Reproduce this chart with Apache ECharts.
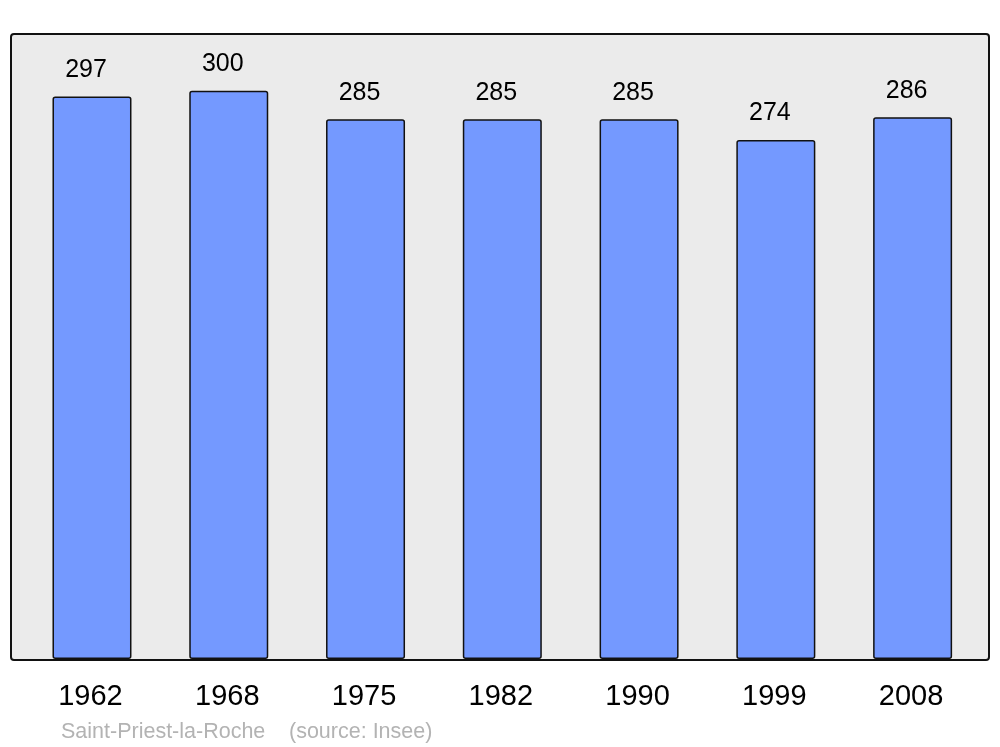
<!DOCTYPE html>
<html>
<head>
<meta charset="utf-8">
<script src="https://cdn.jsdelivr.net/npm/echarts@6/dist/echarts.min.js"></script>
<style>html,body{margin:0;padding:0;background:#fff;}#c{width:1000px;height:747px;}</style>
</head>
<body>
<div id="c"></div>
<script>
const years = ['1962', '1968', '1975', '1982', '1990', '1999', '2008'];
const population = [297, 300, 285, 285, 285, 274, 286];
const commune = 'Saint-Priest-la-Roche';
const sourceText = '(source: Insee)';

const chart = echarts.init(document.getElementById('c'), null, {renderer: 'canvas'});
const FONT = '"Liberation Sans", Arial, sans-serif';
chart.setOption({
  animation: false,
  backgroundColor: '#ffffff',
  graphic: [
    {type: 'rect', z: -10, silent: true,
     shape: {x: 11, y: 34, width: 978, height: 626, r: 3},
     style: {fill: '#ebebeb', stroke: '#111111', lineWidth: 2}},
    {type: 'text', left: 61, top: 721, silent: true,
     style: {text: commune, fill: '#b3b3b3', font: '21.5px ' + FONT}},
    {type: 'text', left: 289, top: 721, silent: true,
     style: {text: sourceText, fill: '#b3b3b3', font: '21.5px ' + FONT}}
  ],
  grid: {left: 23.6, right: 19, top: 34, bottom: 88},
  xAxis: {
    type: 'category', data: years,
    axisLine: {show: false}, axisTick: {show: false},
    axisLabel: {color: '#000', fontSize: 29, fontFamily: FONT, margin: 23, padding: [0, 3, 0, 0]}
  },
  yAxis: {type: 'value', min: 0, max: 330, show: false, splitLine: {show: false}},
  series: [{
    type: 'bar', data: population, barWidth: 79,
    itemStyle: {color: '#7499ff', borderColor: '#111111', borderWidth: 1.5, borderRadius: 2},
    label: {show: true, position: 'top', distance: 14, offset: [-6, 0], color: '#000', fontSize: 25, fontFamily: FONT}
  }]
});
</script>
</body>
</html>
